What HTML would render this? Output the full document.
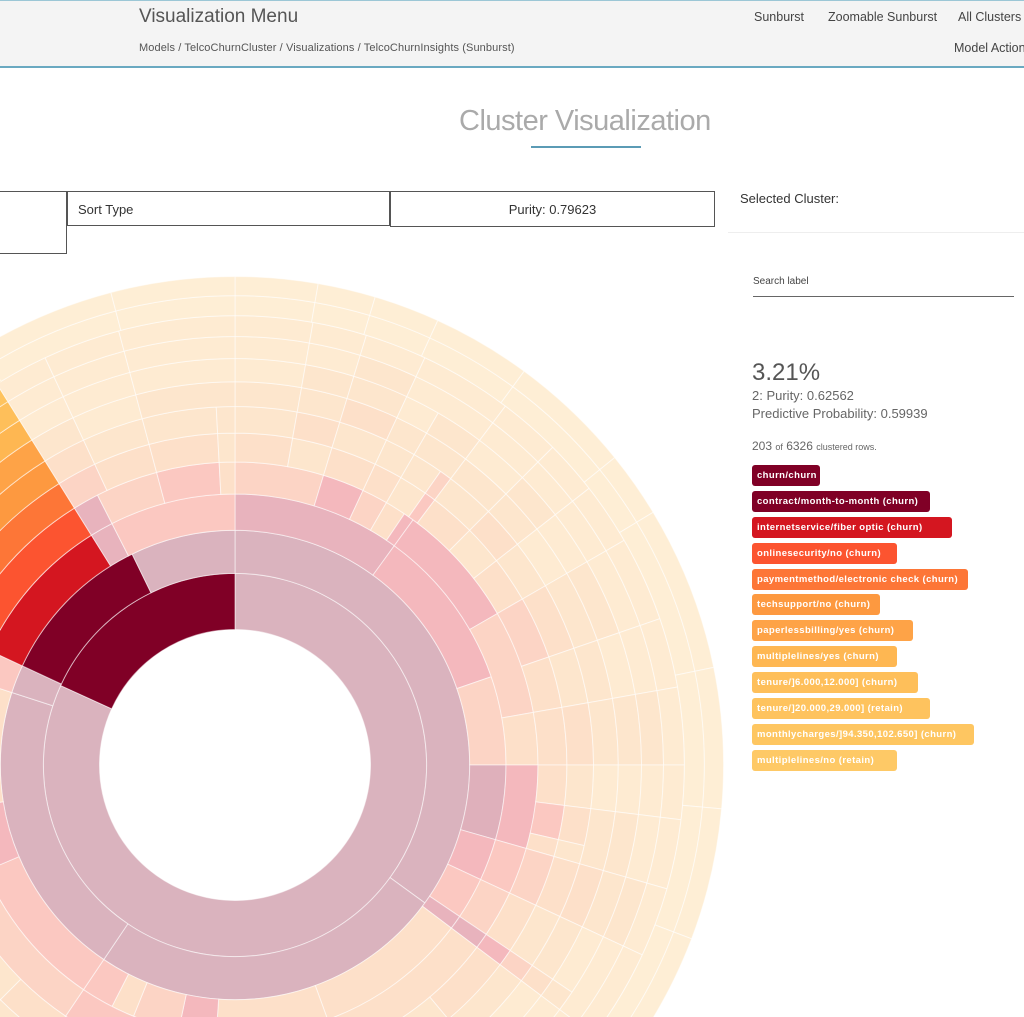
<!DOCTYPE html>
<html><head><meta charset="utf-8">
<style>
html,body{margin:0;padding:0;background:#fff;width:1024px;height:1017px;overflow:hidden;position:relative;font-family:"Liberation Sans",sans-serif;}
.abs{position:absolute;white-space:nowrap;}
#hdr{position:absolute;left:0;top:0;width:1024px;height:65px;background:#f4f4f4;border-top:1px solid #9cc7d6;border-bottom:2px solid #6aa9c1;}
.nav{font-size:12.5px;color:#444;top:10px;}
.badge{position:absolute;left:752px;height:21px;border-radius:3px;color:#fff;font-weight:bold;font-size:9.5px;letter-spacing:0.4px;line-height:21px;padding-left:5px;box-sizing:border-box;white-space:nowrap;overflow:hidden;}
</style></head><body>
<div id="hdr"></div>
<div class="abs" style="left:139px;top:6px;font-size:19px;color:#555;">Visualization Menu</div>
<div class="abs" style="left:139px;top:42px;font-size:11px;color:#555;letter-spacing:0.1px;">
<span>Models</span> / <span>TelcoChurnCluster</span> / <span>Visualizations</span> / <span>TelcoChurnInsights (Sunburst)</span></div>
<div class="abs nav" style="left:754px;">Sunburst</div>
<div class="abs nav" style="left:828px;">Zoomable Sunburst</div>
<div class="abs nav" style="left:958px;">All Clusters</div>
<div class="abs nav" style="left:954px;top:41px;">Model Actions</div>

<div class="abs" style="left:459px;top:105px;font-size:29px;color:#aaa;letter-spacing:-0.5px;">Cluster Visualization</div>
<div class="abs" style="left:531px;top:146px;width:110px;height:2px;background:#5b9bb5;"></div>

<div class="abs" style="left:-2px;top:191px;width:68px;height:61px;border:1px solid #555;border-left:none;"></div>
<div class="abs" style="left:67px;top:191px;width:323px;height:35px;border:1px solid #555;font-size:13px;color:#333;line-height:35px;padding-left:10px;box-sizing:border-box;">Sort Type</div>
<div class="abs" style="left:390px;top:191px;width:325px;height:36px;border:1px solid #555;font-size:13px;color:#333;line-height:35px;text-align:center;box-sizing:border-box;">Purity: 0.79623</div>

<div class="abs" style="left:740px;top:191px;font-size:13px;color:#333;">Selected Cluster:</div>
<div class="abs" style="left:728px;top:232px;width:296px;height:1px;background:#eee;"></div>
<div class="abs" style="left:753px;top:276px;width:261px;height:20px;border-bottom:1px solid #666;font-size:10px;color:#444;">Search label</div>

<div class="abs" style="left:752px;top:359px;font-size:24px;color:#555;">3.21%</div>
<div class="abs" style="left:752px;top:388px;font-size:13px;color:#666;">2: Purity: 0.62562</div>
<div class="abs" style="left:752px;top:406px;font-size:13px;color:#666;">Predictive Probability: 0.59939</div>
<div class="abs" style="left:752px;top:439px;font-size:12px;color:#666;">203 <span style="font-size:9px">of</span> 6326 <span style="font-size:9px">clustered rows.</span></div>

<div class="badge" style="top:465px;width:68px;background:#800026;">churn/churn</div>
<div class="badge" style="top:491px;width:178px;background:#800026;">contract/month-to-month (churn)</div>
<div class="badge" style="top:517px;width:200px;background:#d41620;">internetservice/fiber optic (churn)</div>
<div class="badge" style="top:543px;width:145px;background:#fc5430;">onlinesecurity/no (churn)</div>
<div class="badge" style="top:569px;width:216px;background:#fd7637;">paymentmethod/electronic check (churn)</div>
<div class="badge" style="top:594px;width:128px;background:#fd9940;">techsupport/no (churn)</div>
<div class="badge" style="top:620px;width:161px;background:#fea347;">paperlessbilling/yes (churn)</div>
<div class="badge" style="top:646px;width:145px;background:#feb752;">multiplelines/yes (churn)</div>
<div class="badge" style="top:672px;width:166px;background:#febf5a;">tenure/]6.000,12.000] (churn)</div>
<div class="badge" style="top:698px;width:178px;background:#fec35e;">tenure/]20.000,29.000] (retain)</div>
<div class="badge" style="top:724px;width:222px;background:#fec661;">monthlycharges/]94.350,102.650] (churn)</div>
<div class="badge" style="top:750px;width:145px;background:#fec966;">multiplelines/no (retain)</div>

<svg id="sb" width="730" height="1017" style="position:absolute;left:0;top:0;"></svg>

<script>
// level spans in degrees (clockwise from 12 o'clock) with color keys
const level1 = [[294.5,'M'],[65.5,'D']];
const level2 = [[126,'M'],[88,'M'],[74,'M'],[7,'M'],[39,'D'],[26,'M']];
const level3 = [[36,'P1'],[35,'P2'],[19,'S2'],[16,'M2'],[9,'P2'],[9,'S1'],[3,'P1'],[33,'B1'],[24,'B1'],[8,'P2'],[10,'S2'],[5,'B1'],[7,'S1'],[33,'S1'],[14,'P2'],[27,'B1'],[7,'S1'],[33,'R'],[5,'P1'],[27,'S1']];
const level4 = [[17,'S2'],[8,'P2'],[5,'S2'],[4,'B1'],[2,'P2'],[24,'P2'],[20,'S2'],[10,'B1'],[16,'P2'],[9,'S1'],[9,'S2'],[3,'P1'],[33,'B1'],[24,'B1'],[8,'S2'],[22,'S1'],[33,'S2'],[14,'B1'],[27,'B2'],[12,'S1'],[28,'O1'],[5,'P1'],[12,'S2'],[12,'S1'],[3,'B1']];
const level5 = [[10,'B1'],[7,'B2'],[8,'B1'],[5,'B1'],[5,'B2'],[2,'S1'],[8,'B1'],[7,'B2'],[8,'B1'],[11,'S2'],[9,'B1'],[10,'B1'],[7,'B1'],[6,'S1'],[3,'B1'],[9,'S2'],[9,'B1'],[3,'P2'],[13,'B1'],[15,'B2'],[15,'B1'],[14,'B1'],[8,'S2'],[10,'B1'],[5,'S2'],[7,'S1'],[11,'B1'],[10,'B2'],[12,'S2'],[14,'B2'],[14,'B2'],[13,'B1'],[16,'S2'],[24,'O2'],[7,'S2'],[10,'B1'],[12,'B1'],[3,'B2']];
const level6 = [[10,'B2'],[7,'B1'],[8,'B2'],[5,'B2'],[5,'B2'],[2,'S2'],[8,'B2'],[7,'B1'],[8,'B2'],[11,'B1'],[9,'B2'],[10,'B1'],[7,'B2'],[6,'B1'],[3,'B2'],[9,'B1'],[9,'B2'],[3,'S2'],[13,'B2'],[15,'B3'],[15,'B2'],[14,'B2'],[8,'B1'],[10,'B2'],[5,'B1'],[7,'S2'],[11,'B2'],[10,'B2'],[12,'B1'],[14,'B3'],[14,'B2'],[13,'B2'],[18,'B1'],[22,'O3'],[7,'B1'],[10,'B2'],[12,'B2'],[3,'B2']];
const level7 = [[10,'B2'],[7,'B2'],[8,'B1'],[5,'B2'],[7,'B2'],[8,'B2'],[7,'B2'],[8,'B3'],[11,'B2'],[9,'B2'],[10,'B2'],[7,'B3'],[9,'B2'],[9,'B1'],[9,'B2'],[3,'B1'],[13,'B3'],[15,'B3'],[15,'B2'],[14,'B3'],[8,'B2'],[10,'B2'],[12,'B1'],[11,'B3'],[10,'B2'],[12,'B2'],[14,'B3'],[14,'B3'],[13,'B2'],[20,'B2'],[20,'O4'],[7,'B2'],[10,'B3'],[15,'B2']];
const level8 = [[10,'B3'],[7,'B2'],[8,'B2'],[5,'B3'],[7,'B2'],[8,'B3'],[7,'B2'],[8,'B3'],[11,'B2'],[9,'B3'],[10,'B2'],[7,'B3'],[9,'B2'],[9,'B2'],[9,'B3'],[3,'B2'],[13,'B3'],[15,'B3'],[15,'B3'],[14,'B3'],[8,'B2'],[10,'B3'],[12,'B2'],[11,'B3'],[10,'B3'],[12,'B2'],[14,'B3'],[14,'B3'],[13,'B3'],[22,'B2'],[18,'Y1'],[7,'B3'],[10,'B3'],[15,'B3']];
const level9 = [[10,'B3'],[7,'B3'],[8,'B2'],[12,'B3'],[8,'B3'],[7,'B3'],[8,'B3'],[11,'B3'],[9,'B3'],[10,'B2'],[7,'B3'],[9,'B3'],[9,'B2'],[12,'B3'],[13,'B3'],[15,'B3'],[15,'B3'],[14,'B3'],[8,'B3'],[10,'B3'],[12,'B2'],[11,'B3'],[10,'B3'],[12,'B3'],[14,'B3'],[14,'B3'],[13,'B3'],[24,'B3'],[16,'Y2'],[7,'B3'],[10,'B3'],[15,'B3']];
const level10 = [[10,'B3'],[7,'B3'],[8,'B3'],[12,'B3'],[8,'B3'],[7,'B3'],[8,'B3'],[11,'B3'],[9,'B3'],[10,'B3'],[7,'B3'],[9,'B3'],[9,'B3'],[12,'B3'],[13,'B3'],[15,'B3'],[15,'B3'],[14,'B3'],[8,'B3'],[10,'B3'],[12,'B3'],[11,'B3'],[10,'B3'],[12,'B3'],[14,'B3'],[14,'B3'],[13,'B3'],[25,'B3'],[15,'Y3'],[7,'B3'],[10,'B3'],[15,'B3']];
const level11 = [[10,'B4'],[7,'B4'],[8,'B4'],[12,'B4'],[15,'B4'],[8,'B4'],[20,'B4'],[17,'B4'],[16,'B4'],[21,'B4'],[13,'B4'],[30,'B4'],[14,'B4'],[18,'B4'],[23,'B4'],[22,'B4'],[28,'B4'],[13,'B4'],[26,'B4'],[14,'Y4'],[17,'B4'],[15,'B4']];
const level12 = [[10,'B4'],[7,'B4'],[8,'B4'],[12,'B4'],[15,'B4'],[8,'B4'],[20,'B4'],[17,'B4'],[16,'B4'],[21,'B4'],[13,'B4'],[30,'B4'],[14,'B4'],[18,'B4'],[23,'B4'],[22,'B4'],[28,'B4'],[13,'B4'],[28,'B4'],[12,'Y5'],[17,'B4'],[15,'B4']];
const levels = [level1,level2,level3,level4,level5,level6,level7,level8,level9,level10,level11,level12];

const palette = {M:'#dab3be',M2:'#dfb0bb',D:'#800026',R:'#d41620',O1:'#fc5430',O2:'#fd7637',O3:'#fd9940',O4:'#fea347',Y1:'#feb752',Y2:'#febf5a',Y3:'#fec35e',Y4:'#fec661',Y5:'#fec966',P1:'#e8b3bd',P2:'#f4b8bd',S1:'#fbc8c1',S2:'#fcd4c5',B1:'#fde0c9',B2:'#fde6cd',B3:'#feebd2',B4:'#feeed5'};

const cx = 235, cy = 765, rUnit = 135.5;
function radius(depth){ return rUnit*Math.sqrt(depth); }
function angle(v,total){ return v/total*2*Math.PI; }
function pt(r,a){ return [cx + r*Math.sin(a), cy - r*Math.cos(a)]; }
function arcPath(r0,r1,a0,a1){
  const large = (a1-a0) > Math.PI ? 1 : 0;
  const p0=pt(r1,a0), p1=pt(r1,a1), p2=pt(r0,a1), p3=pt(r0,a0);
  return 'M'+p0[0]+','+p0[1]+'A'+r1+','+r1+' 0 '+large+' 1 '+p1[0]+','+p1[1]+'L'+p2[0]+','+p2[1]+'A'+r0+','+r0+' 0 '+large+' 0 '+p3[0]+','+p3[1]+'Z';
}
const svg = document.getElementById('sb');
const NS = 'http://www.w3.org/2000/svg';
levels.forEach(function(lvl, li){
  const total = lvl.reduce(function(s,d){return s+d[0];},0);
  const r0 = radius(li+1), r1 = radius(li+2);
  let acc = 0;
  lvl.forEach(function(d, si){
    const a0 = angle(acc,total), a1 = angle(acc+d[0],total);
    acc += d[0];
    const p = document.createElementNS(NS,'path');
    p.setAttribute('d', arcPath(r0,r1,a0,a1));
    p.setAttribute('fill', palette[d[1]]);
    p.setAttribute('stroke', '#fff');
    p.setAttribute('stroke-opacity', '0.55');
    p.setAttribute('stroke-width', '1');
    
    
    svg.appendChild(p);
  });
});
</script>
</body></html>
